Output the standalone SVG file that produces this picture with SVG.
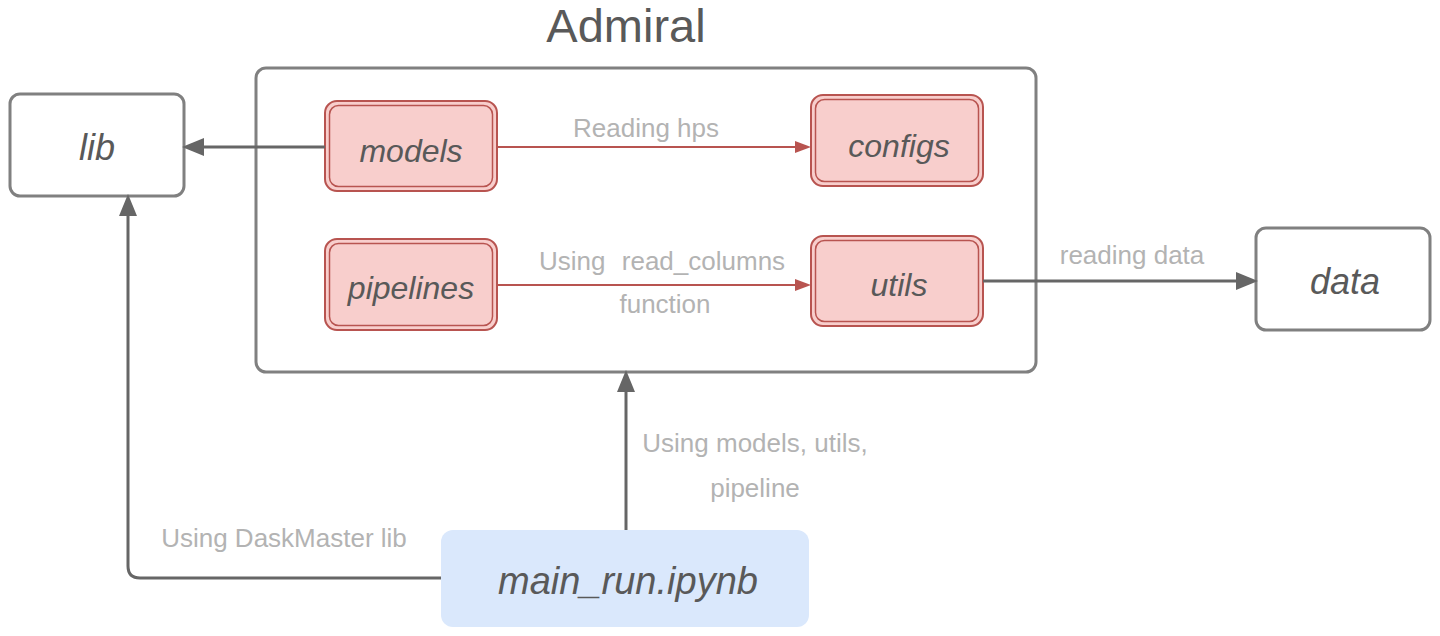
<svg xmlns="http://www.w3.org/2000/svg" width="1440" height="636" viewBox="0 0 1440 636">
<style>
.box{fill:#ffffff;stroke:#808080;stroke-width:3}
.red{fill:#f8cecc;stroke:#b85450;stroke-width:2}
.redin{fill:none;stroke:#b85450;stroke-width:1.5}
.nt{font-family:"Liberation Sans",Arial,sans-serif;font-style:italic;fill:#595959;text-anchor:middle}
.lbl{font-family:"Liberation Sans",Arial,sans-serif;font-size:26px;fill:#b3b3b3;text-anchor:middle}
.cg{fill:none;stroke:#666666;stroke-width:3}
.cr{fill:none;stroke:#b85450;stroke-width:2}
</style>
<defs>
<marker id="ag" markerUnits="userSpaceOnUse" markerWidth="24" markerHeight="20" refX="10" refY="10" orient="auto"><path d="M0,1 L22,10 L0,19 z" fill="#666666"/></marker>
<marker id="ar" markerUnits="userSpaceOnUse" markerWidth="18" markerHeight="14" refX="8" refY="7" orient="auto"><path d="M0,1 L16,7 L0,13 z" fill="#b85450"/></marker>
</defs>
<g id="admiral">
<rect class="box" x="256" y="68" width="780" height="304" rx="10"/>
<text x="626" y="42" font-family="'Liberation Sans',Arial,sans-serif" font-size="47" fill="#595959" text-anchor="middle">Admiral</text>
</g>
<g id="lib"><rect class="box" x="10" y="94" width="174" height="102" rx="10"/><text class="nt" x="97" y="160" font-size="36">lib</text></g>
<g id="data"><rect class="box" x="1256" y="228" width="174" height="102" rx="10"/><text class="nt" x="1345" y="294" font-size="36">data</text></g>
<g id="models"><rect class="red" x="325" y="101" width="172" height="90" rx="12"/><rect class="redin" x="329.5" y="105.5" width="163" height="81" rx="9"/><text class="nt" x="411" y="162" font-size="32">models</text></g>
<g id="configs"><rect class="red" x="811" y="95" width="172" height="91" rx="12"/><rect class="redin" x="815.5" y="99.5" width="163" height="82" rx="9"/><text class="nt" x="899" y="157" font-size="32">configs</text></g>
<g id="pipelines"><rect class="red" x="325" y="239" width="172" height="91" rx="12"/><rect class="redin" x="329.5" y="243.5" width="163" height="82" rx="9"/><text class="nt" x="411" y="299" font-size="32">pipelines</text></g>
<g id="utils"><rect class="red" x="811" y="236" width="172" height="90" rx="12"/><rect class="redin" x="815.5" y="240.5" width="163" height="81" rx="9"/><text class="nt" x="899" y="296" font-size="32">utils</text></g>
<g id="main_run"><rect x="441" y="530" width="368" height="97" rx="12" fill="#dae8fc"/><text class="nt" x="628" y="594" font-size="38">main_run.ipynb</text></g>
<g id="connectors">
<path class="cg" d="M325,147 H194" marker-end="url(#ag)"/>
<path class="cr" d="M497,147 H803" marker-end="url(#ar)"/>
<path class="cr" d="M497,285 H803" marker-end="url(#ar)"/>
<path class="cg" d="M983,281 H1246" marker-end="url(#ag)"/>
<path class="cg" d="M626,530 V382" marker-end="url(#ag)"/>
<path class="cg" d="M441,578 H140 Q128,578 128,566 V206" marker-end="url(#ag)"/>
<text class="lbl" x="646" y="137">Reading hps</text>
<text class="lbl" x="662" y="270" xml:space="preserve" word-spacing="1">Using  read_columns</text>
<text class="lbl" x="665" y="313">function</text>
<text class="lbl" x="1132" y="264">reading data</text>
<text class="lbl" x="755" y="452">Using models, utils,</text>
<text class="lbl" x="755" y="497">pipeline</text>
<text class="lbl" x="284" y="547">Using DaskMaster lib</text>
</g>
</svg>
